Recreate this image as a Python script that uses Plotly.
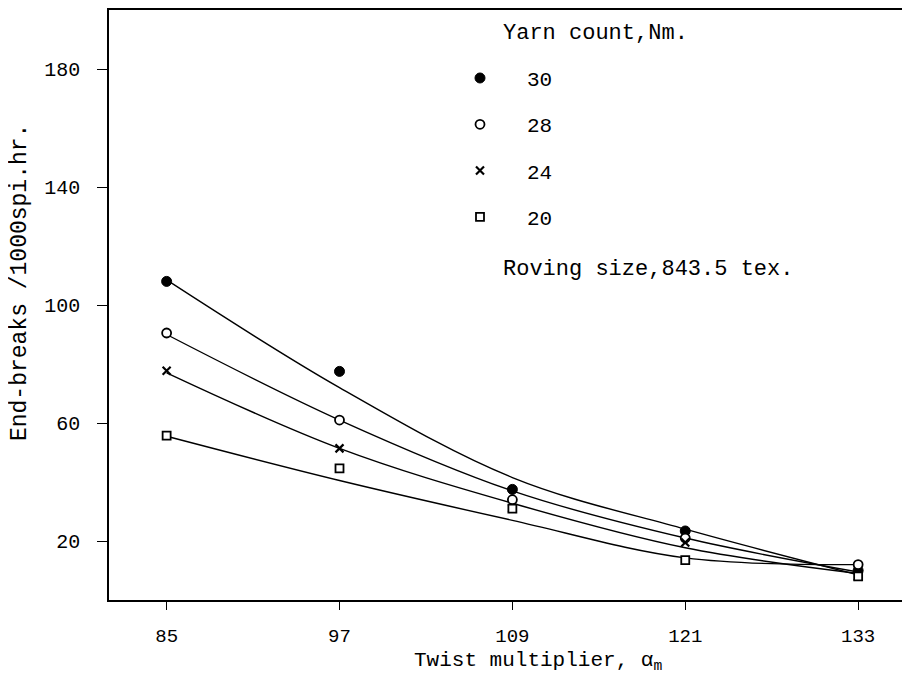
import plotly.graph_objects as go

twist = [85, 97, 109, 121, 133]
counts = ["30", "28", "24", "20"]

# measured end-breaks (markers)
pts_30 = [108.0, 77.5, 37.5, 23.4, 10.0]
pts_28 = [90.5, 61.0, 34.0, 21.0, 12.0]
pts_24 = [77.7, 51.4, 31.0, 19.5, 8.0]
pts_20 = [55.7, 44.6, 31.0, 13.5, 8.0]

# fitted curves at the same twist values
fit_30 = [108.5, 72.0, 41.5, 24.0, 8.5]
fit_28 = [90.0, 61.0, 37.0, 21.0, 9.5]
fit_24 = [77.0, 51.4, 32.8, 17.7, 9.0]
fit_20 = [55.5, 40.5, 27.0, 14.3, 12.0]

y_ticks = [20, 60, 100, 140, 180]

FONT = "Liberation Mono"
pts = [pts_30, pts_28, pts_24, pts_20]
fits = [fit_30, fit_28, fit_24, fit_20]
markers = [
    dict(symbol="circle", size=10, color="black", line=dict(color="black", width=1)),
    dict(symbol="circle", size=9, color="white", line=dict(color="black", width=1.8)),
    dict(symbol="x-thin-open", size=8, color="black", line=dict(color="black", width=2.2)),
    dict(symbol="square", size=8, color="white", line=dict(color="black", width=1.8)),
]

# the page body adds an 8 px offset; plot area in page pixels: x 109..910, y 8..600
OFF = 8
W, H = 910 - OFF, 683 - 2 * OFF
L = 109 - OFF
T = 8 - OFF
B = H - (600 - OFF)


def px(X):
    return (X - 109) / 801


def py(Y):
    return (600 - Y) / 592


fig = go.Figure()
for f in fits:
    fig.add_trace(go.Scatter(x=twist, y=f, mode="lines",
                             line=dict(color="black", width=1.4, shape="spline", smoothing=1.0),
                             showlegend=False, hoverinfo="skip"))
for i, (p, m) in enumerate(zip(pts, markers)):
    fig.add_trace(go.Scatter(x=twist, y=p, mode="markers", marker=m, name=counts[i],
                             legendgroup=counts[i], showlegend=True))

fig.update_layout(
    width=W, height=H,
    margin=dict(l=L, r=0, t=T, b=B, pad=0),
    paper_bgcolor="white", plot_bgcolor="white",
    font=dict(family=FONT, size=20, color="black"),
    showlegend=True,
    legend=dict(x=px(433), y=py(56), xanchor="left", yanchor="top",
                bgcolor="rgba(0,0,0,0)", font=dict(family=FONT, size=21, color="black"),
                tracegroupgap=16, itemwidth=84),
)
fig.update_xaxes(range=[81, 136.6], tickvals=twist, ticktext=[str(t) for t in twist],
                 showline=True, linecolor="black", linewidth=1.5, mirror=True,
                 ticks="outside", ticklen=8, tickcolor="black", tickwidth=1.3,
                 showgrid=False, zeroline=False, ticklabelstandoff=9,
                 tickfont=dict(family=FONT, size=19))
fig.update_yaxes(range=[0, 200], tickvals=y_ticks,
                 showline=True, linecolor="black", linewidth=1.5, mirror=False,
                 ticks="outside", ticklen=10, tickcolor="black", tickwidth=1.3,
                 showgrid=False, zeroline=False, ticklabelstandoff=13,
                 tickfont=dict(family=FONT, size=20))

fig.add_annotation(text="Yarn count,Nm.", xref="paper", yref="paper",
                   x=px(501), y=py(32), xanchor="left", yanchor="middle",
                   showarrow=False, font=dict(family=FONT, size=22))
fig.add_annotation(text="Roving size,843.5 tex.", xref="paper", yref="paper",
                   x=px(501), y=py(268), xanchor="left", yanchor="middle",
                   showarrow=False, font=dict(family=FONT, size=22))
fig.add_annotation(text="Twist multiplier, α<sub>m</sub>", xref="paper", yref="paper",
                   x=px(538), y=py(662), xanchor="center", yanchor="middle",
                   showarrow=False, font=dict(family=FONT, size=21))
fig.add_annotation(text="End-breaks /1000spi.hr.", xref="paper", yref="paper",
                   x=px(20), y=py(282), xanchor="center", yanchor="middle",
                   textangle=-90, showarrow=False, font=dict(family=FONT, size=23))

fig.write_html("out.html")
